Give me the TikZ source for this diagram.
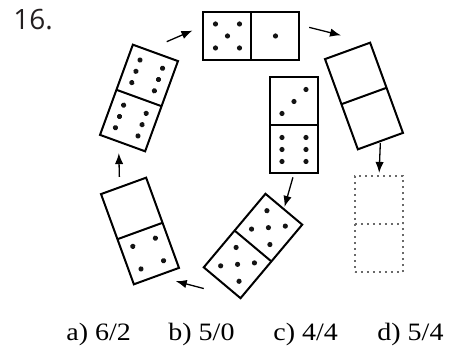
\documentclass[tikz,border=0pt]{standalone}
\usepackage{fontspec}
\usepackage{tikz}
\usetikzlibrary{
    arrows.meta,
    positioning,
    calc
}
\newfontfamily\numfont{Open Sans}
\newfontfamily\optfont[FakeStretch=1.12]{Liberation Serif}
\tikzset{
  domino/.style  = {draw, line width=1pt, minimum width=24pt,
                    minimum height=48pt, inner sep=0pt, outer sep=0pt},
  ghost/.style   = {domino, draw=DotGray, dotted},
  pip/.style     = {fill=PipBlack},
  opt/.style     = {anchor=base west, inner sep=0pt, font=\optfont\fontsize{12.5}{14}\selectfont},
  arr/.style     = {-{Latex[length=5.5pt, width=4.2pt]}, line width=0.65pt}
}
\definecolor{PipBlack}{RGB}{20,20,20}
\definecolor{DotGray}{RGB}{105,105,105}
\definecolor{NumGray}{RGB}{35,31,32}

\begin{document}
\begin{tikzpicture}[x=0.5pt, y=-0.5pt]
\useasboundingbox (0,0) rectangle (457,351);
\node[anchor=base west, inner sep=0pt, text=NumGray, font=\numfont\fontsize{14}{16}\selectfont] (num) at (13,30) {16.};
% dominoes
\node[domino, rotate=90]  (top) at (251.5,36)  {};
\node[domino, rotate=20]  (tr)  at (364,96)    {};
\node[ghost]              (dt)  at (379,224.5) {};
\node[domino]             (cv)  at (294,125.5) {};
\node[domino, rotate=-40] (bd)  at (253,246)   {};
\node[domino, rotate=20]  (lb)  at (140,231)   {};
\node[domino, rotate=-20] (lt)  at (139,98)    {};
\foreach \d in {top,tr,cv,bd,lb,lt}
  \draw[line width=1pt] (\d.west) -- (\d.east);
\draw[line width=1pt, DotGray, dotted] (dt.west) -- (dt.east);
% pips
\begin{scope}[shift={(top.center)}, rotate=90]
  \foreach \x/\y in {-12/-36, 12/-36, 0/-24, -12/-12, 12/-12, 0/24}
    \fill[pip] (\x,\y) circle[radius=1.3pt];
\end{scope}
\begin{scope}[shift={(cv.center)}]
  \foreach \x/\y in {-12/-12, 0/-24, 12/-36, -12/12, -12/24, -12/36, 12/12, 12/24, 12/36}
    \fill[pip] (\x,\y) circle[radius=1.3pt];
\end{scope}
\begin{scope}[shift={(bd.center)}, rotate=-40]
  \foreach \x/\y in {-12/-36, 12/-36, 0/-24, -12/-12, 12/-12, -12/12, 12/12, 0/24, -12/36, 12/36}
    \fill[pip] (\x,\y) circle[radius=1.3pt];
\end{scope}
\begin{scope}[shift={(lb.center)}, rotate=20]
  \foreach \x/\y in {-12/12, 12/12, -12/36, 12/36}
    \fill[pip] (\x,\y) circle[radius=1.3pt];
\end{scope}
\begin{scope}[shift={(lt.center)}, rotate=-20]
  \foreach \x/\y in {-12/-36, -12/-24, -12/-12, 12/-36, 12/-24, 12/-12, -12/12, -12/24, -12/36, 12/12, 12/24, 12/36}
    \fill[pip] (\x,\y) circle[radius=1.3pt];
\end{scope}
% arrows
\draw[arr, shorten <=10.5pt, shorten >=6pt] (lt.100) -- (top.78);
\draw[arr, shorten <=5pt, shorten >=15pt] (top.-77) -- (tr.north east);
\draw[arr, shorten <=1pt, shorten >=1.8pt] (tr.south) -- (dt.north);
\draw[arr, shorten <=2pt, shorten >=1.2pt] (cv.south) -- (bd.north);
\draw[arr, shorten <=19pt, shorten >=10pt] (bd.south east) -- (lb.south);
\draw[arr, shorten <=4.5pt, shorten >=5pt] ([xshift=-2pt]lb.north) -- ([xshift=-2pt]lt.south);
% answers
\node[opt] (ansa) at (66,341)  {a) 6/2};
\node[opt] (ansb) at (168,341) {b) 5/0};
\node[opt] (ansc) at (273,341) {c) 4/4};
\node[opt] (ansd) at (377,341) {d) 5/4};
\end{tikzpicture}
\end{document}
